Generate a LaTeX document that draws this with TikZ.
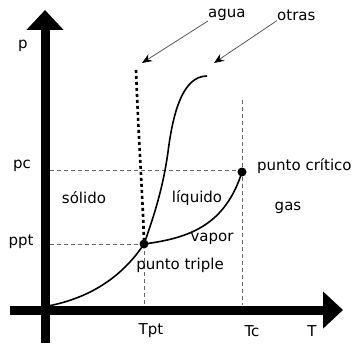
\documentclass[tikz,border=0pt]{standalone}
\usepackage{fontspec}
\setmainfont{DejaVu Sans}
\usetikzlibrary{arrows.meta}

\begin{document}
\begin{tikzpicture}[x=1pt,y=-1pt,font=\fontsize{15}{17}\selectfont,
    axis/.style={line width=9pt,-{Triangle[length=20pt,width=36pt]}},
    guide/.style={draw=gray!80!black,dash pattern=on 4pt off 3pt,line width=0.8pt},
    phase/.style={line width=1.6pt},
    water/.style={line width=2.6pt,dash pattern=on 3pt off 3pt},
    pointer/.style={draw=gray!70!black,line width=0.8pt,-{Stealth[length=10pt,width=8pt,black]}}]
  \useasboundingbox (0,0) rectangle (356,345);

  % axes
  \coordinate (xstart) at (10,310);
  \coordinate (xend) at (343,310);
  \coordinate (ystart) at (45,343);
  \coordinate (yend) at (45,10);
  \draw[axis] (xstart) -- (xend);
  \draw[axis] (ystart) -- (yend);

  \coordinate (o) at (48,306);
  \coordinate (tp) at (144,244);
  \coordinate (cp) at (242,172);
  \coordinate (wtop) at (136,70);
  \coordinate (otop) at (207,76);

  % guide lines
  \coordinate (pcleft) at (50,170);
  \coordinate (pptleft) at (50,244);
  \coordinate (tctop) at (242,100);
  \coordinate (tcbot) at (242,305);
  \coordinate (tptbot) at (144,305);
  \draw[guide] (pcleft) -- (pcleft -| cp);
  \draw[guide] (pptleft) -- (tp);
  \draw[guide] (tctop) -- (tcbot);
  \draw[guide] (tp) -- (tptbot);

  % phase curves
  \draw[phase] (o) .. controls (100,296) and (128,268) .. (tp);
  \draw[phase] (tp) .. controls (158,205) and (164,180) .. (168,152)
                    .. controls (173,112) and (183,76) .. (otop);
  \draw[phase] (tp) .. controls (190,238) and (225,225) .. (cp);
  \draw[water] (wtop) .. controls (139,150) and (143,200) .. (tp);
  \fill (tp) circle (4.5pt);
  \fill (cp) circle (4.5pt);

  % labels
  \node (p) at (23,46) {p};
  \node (pc) at (22,166) {pc};
  \node (ppt) at (21,242) {ppt};
  \node (Tpt) at (151,331) {Tpt};
  \node (Tc) at (252,331) {Tc};
  \node (T) at (312,331) {T};
  \node (solido) at (84,198) {sólido};
  \node (liquido) at (197,198) {líquido};
  \node (gas) at (288,208) {gas};
  \node (vapor) at (212,239) {vapor};
  \node (triple) at (180,265) {punto triple};
  \node[anchor=west,inner sep=0pt] (critico) at (257,166) {punto crítico};
  \node[anchor=west,inner sep=0pt] (agua) at (208,15) {agua};
  \node[anchor=west,inner sep=0pt] (otras) at (277,15) {otras};

  \coordinate (wtip) at (142,63);
  \coordinate (otip) at (214,63);
  \draw[pointer] (agua.south west) -- (wtip);
  \draw[pointer] (otras.south west) -- (otip);
\end{tikzpicture}
\end{document}
